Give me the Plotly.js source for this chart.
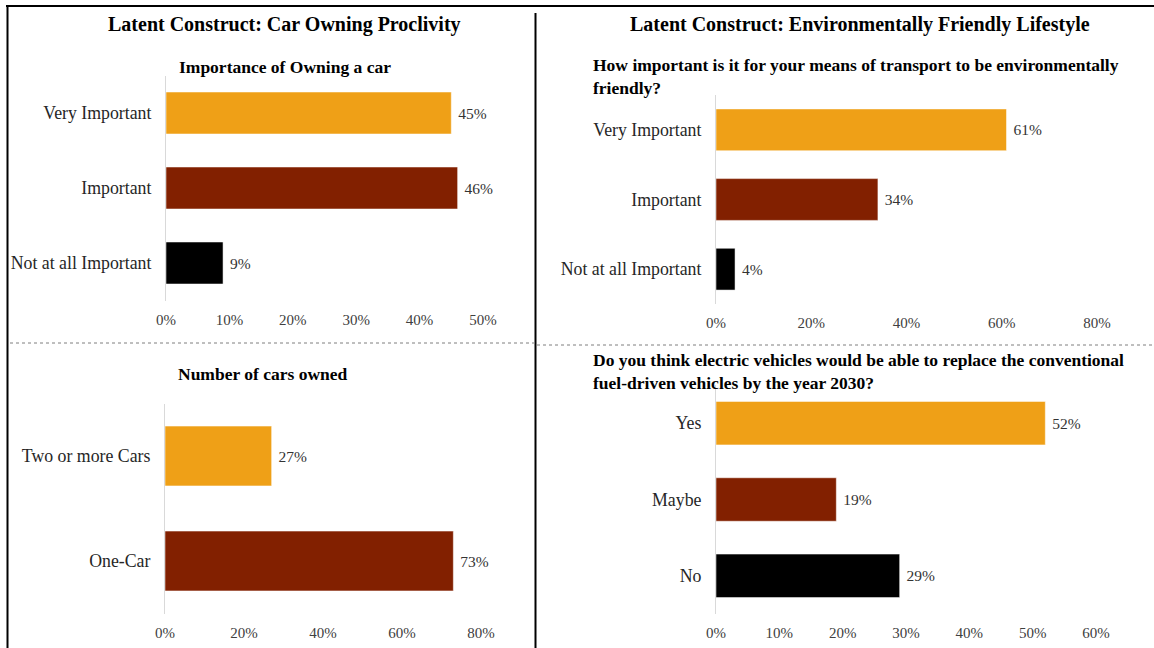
<!DOCTYPE html>
<html><head><meta charset="utf-8">
<script src="https://cdn.plot.ly/plotly-3.0.1.min.js"></script>
<style>html,body{margin:0;padding:0;background:#fff}#chart{width:1154px;height:648px}</style>
</head><body><div id="chart"></div>
<script>
// ---- data ----
const mainTitles = ['Latent Construct: Car Owning Proclivity', 'Latent Construct: Environmentally Friendly Lifestyle'];
const ownTitle = 'Importance of Owning a car';
const ownCats = ['Very Important', 'Important', 'Not at all Important'];
const ownVals = [0.45, 0.46, 0.09];
const ownTicks = [0, 0.1, 0.2, 0.3, 0.4, 0.5];

const envTitle = 'How important is it for your means of transport to be environmentally<br>friendly?';
const envCats = ['Very Important', 'Important', 'Not at all Important'];
const envVals = [0.61, 0.34, 0.04];
const envTicks = [0, 0.2, 0.4, 0.6, 0.8];

const carsTitle = 'Number of cars owned';
const carsCats = ['Two or more Cars', 'One-Car'];
const carsVals = [0.27, 0.73];
const carsTicks = [0, 0.2, 0.4, 0.6, 0.8];

const evTitle = 'Do you think electric vehicles would be able to replace the conventional<br>fuel-driven vehicles by the year 2030?';
const evCats = ['Yes', 'Maybe', 'No'];
const evVals = [0.52, 0.19, 0.29];
const evTicks = [0, 0.1, 0.2, 0.3, 0.4, 0.5, 0.6];

// ---- styling ----
const W = 1154, H = 648;
const px = v => v / W;
const py = v => 1 - v / H;
const palette = ['#EFA017', '#822000', '#000000'];
const SERIF = 'Liberation Serif';

function barTrace(cats, vals, xa, ya) {
  return {
    type: 'bar', orientation: 'h', y: cats, x: vals,
    xaxis: xa, yaxis: ya,
    marker: { color: palette.slice(0, cats.length), line: { color: 'rgba(255,255,255,0.5)', width: 1 } },
    texttemplate: '\u00a0%{x:.0%}', textposition: 'outside', cliponaxis: false,
    textfont: { family: SERIF, size: 15.5, color: '#333333' },
    hoverinfo: 'skip', showlegend: false
  };
}
function xAxis(dom, ticks, anchor) {
  return {
    domain: dom, anchor: anchor, range: [ticks[0], ticks[ticks.length - 1]],
    tickvals: ticks, tickformat: '.0%', showgrid: false, zeroline: false, showline: false,
    ticks: '', ticklabelstandoff: 8, fixedrange: true,
    tickfont: { family: SERIF, size: 15, color: '#404040' }
  };
}
function yAxis(dom, cats, anchor) {
  return {
    domain: dom, anchor: anchor, type: 'category', categoryorder: 'array', categoryarray: cats,
    range: [cats.length - 0.5, -0.5], showgrid: false, zeroline: false,
    showline: true, linecolor: '#d9d9d9', linewidth: 1, ticks: '', ticklabelstandoff: 10,
    fixedrange: true, tickfont: { family: SERIF, size: 17.8, color: '#262626' }
  };
}

const data = [
  barTrace(ownCats, ownVals, 'x', 'y'),
  barTrace(envCats, envVals, 'x2', 'y2'),
  barTrace(carsCats, carsVals, 'x3', 'y3'),
  barTrace(evCats, evVals, 'x4', 'y4')
];
data[0].width = 0.56; data[1].width = 0.6; data[2].width = 0.57; data[3].width = 0.57;

function ann(text, x, y, size, xanchor, align) {
  return { text: text, xref: 'paper', yref: 'paper', x: px(x), y: py(y), xanchor: xanchor, yanchor: 'middle',
    align: align || 'center', showarrow: false, font: { family: SERIF, size: size, color: '#000' } };
}
const bold = s => '<b>' + s.split('<br>').join('</b><br><b>') + '</b>';

const layout = {
  width: W, height: H, margin: { l: 0, r: 0, t: 0, b: 0 },
  font: { family: SERIF },
  paper_bgcolor: '#fff', plot_bgcolor: 'rgba(0,0,0,0)', bargap: 0.44,
  xaxis: xAxis([px(166), px(483)], ownTicks, 'y'),
  yaxis: yAxis([py(300.5), py(75.5)], ownCats, 'x'),
  xaxis2: xAxis([px(716), px(1097)], envTicks, 'y2'),
  yaxis2: yAxis([py(304), py(95)], envCats, 'x2'),
  xaxis3: xAxis([px(165), px(481)], carsTicks, 'y3'),
  yaxis3: yAxis([py(613.5), py(403.5)], carsCats, 'x3'),
  xaxis4: xAxis([px(716), px(1096)], evTicks, 'y4'),
  yaxis4: yAxis([py(614), py(385)], evCats, 'x4'),
  annotations: [
    ann(bold(mainTitles[0]), 284, 25, 20, 'center'),
    ann(bold(mainTitles[1]), 860, 25, 20, 'center'),
    ann(bold(ownTitle), 285, 67, 17.5, 'center'),
    ann(bold(envTitle), 591, 76.5, 17.5, 'left', 'left'),
    ann(bold(carsTitle), 263, 374, 17.5, 'center'),
    ann(bold(evTitle), 591, 371.5, 17.5, 'left', 'left')
  ],
  shapes: [
    { type: 'line', xref: 'paper', yref: 'paper', x0: px(6), x1: 1, y0: py(6), y1: py(6), line: { color: '#000', width: 2 } },
    { type: 'line', xref: 'paper', yref: 'paper', x0: px(7.5), x1: px(7.5), y0: py(5), y1: 0, line: { color: '#000', width: 2 } },
    { type: 'line', xref: 'paper', yref: 'paper', x0: px(535.5), x1: px(535.5), y0: py(13), y1: 0, line: { color: '#000', width: 2 } },
    { type: 'line', xref: 'paper', yref: 'paper', x0: px(10), x1: px(534), y0: py(343), y1: py(343), line: { color: '#7f7f7f', width: 1, dash: 'dot' } },
    { type: 'line', xref: 'paper', yref: 'paper', x0: px(537), x1: 1, y0: py(345), y1: py(345), line: { color: '#7f7f7f', width: 1, dash: 'dot' } }
  ]
};

Plotly.newPlot('chart', data, layout, { displayModeBar: false, staticPlot: true });
</script></body></html>
